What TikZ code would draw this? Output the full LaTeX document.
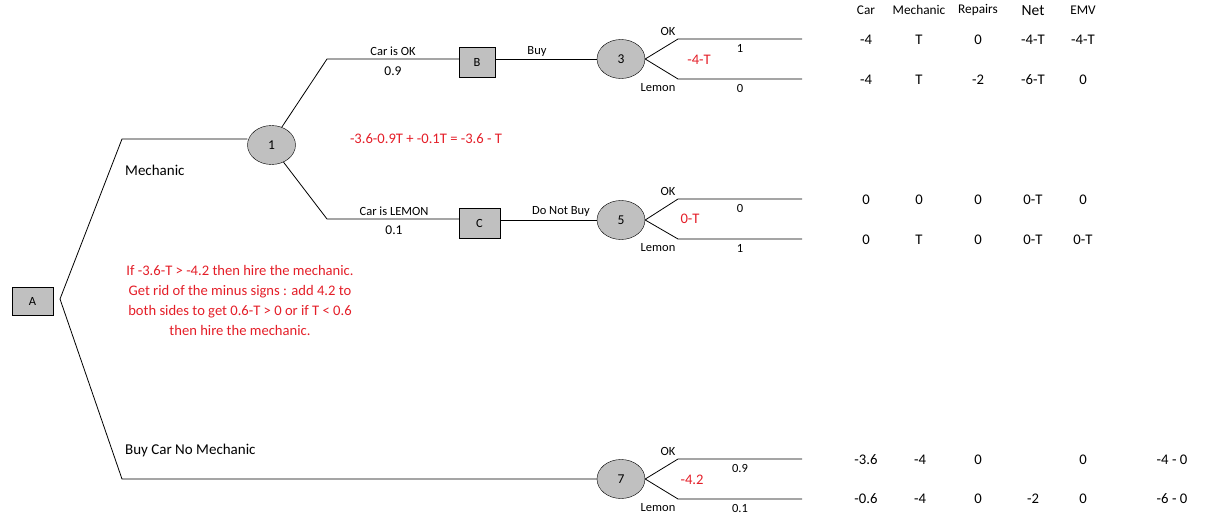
\documentclass[tikz,border=0pt]{standalone}
\usepackage{fontspec}
\setmainfont{Carlito}
\usetikzlibrary{shapes.geometric}
\definecolor{redtxt}{RGB}{228,30,40}
\definecolor{nodegray}{RGB}{192,192,192}
\tikzset{
  dec/.style={draw=black,fill=nodegray,rectangle,inner sep=0pt,font=\fontsize{12.5}{14}\selectfont},
  chance/.style={draw=black,fill=nodegray,ellipse,inner sep=0pt,minimum width=48pt,minimum height=39pt,font=\fontsize{13.5}{15}\selectfont},
  lbl/.style={inner sep=0pt,font=\fontsize{12.5}{14}\selectfont},
  prob/.style={inner sep=0pt,font=\fontsize{13.5}{15}\selectfont},
  big/.style={inner sep=0pt,font=\fontsize{15}{17}\selectfont},
  redlbl/.style={inner sep=0pt,text=redtxt,font=\fontsize{14.6}{17}\selectfont},
  hdr/.style={inner sep=0pt,font=\fontsize{13.3}{15}\selectfont},
  val/.style={inner sep=0pt,font=\fontsize{14.7}{16}\selectfont},
  edge/.style={draw=black,line width=0.8pt}
}
\begin{document}
\begin{tikzpicture}[x=1pt,y=-1pt]
\useasboundingbox (0,0) rectangle (1206,524);
% nodes
\node[dec,minimum width=41pt,minimum height=28pt] (A) at (32.5,301) {A};
\node[chance] (n1) at (271.5,145) {1};
\node[dec,minimum width=36pt,minimum height=30pt] (B) at (477,62) {B};
\node[dec,minimum width=41pt,minimum height=30pt] (C) at (479.5,223) {C};
\node[chance] (n3) at (621,59) {3};
\node[chance] (n5) at (621,220) {5};
\node[chance] (n7) at (621,479) {7};
% coordinates
\coordinate (fA) at (60,299);
\coordinate (kM) at (122,139);
\coordinate (kN) at (122,479);
\coordinate (k1a) at (327,59);
\coordinate (k1b) at (327,219);
\coordinate (e3a) at (678,39);  \coordinate (t3a) at (802,39);
\coordinate (e3b) at (678,79);  \coordinate (t3b) at (802,79);
\coordinate (e5a) at (678,199); \coordinate (t5a) at (802,199);
\coordinate (e5b) at (678,239); \coordinate (t5b) at (802,239);
\coordinate (e7a) at (678,459); \coordinate (t7a) at (802,459);
\coordinate (e7b) at (678,499); \coordinate (t7b) at (802,499);
% connectors
\draw[edge] (fA) -- (kM) -- (n1.west |- kM);
\draw[edge] (fA) -- (kN) -- (n7.west);
\draw[edge] (n1.60) -- (k1a) -- (B.west |- k1a);
\draw[edge] (n1.-55) -- (k1b) -- (C.west |- k1b);
\draw[edge] (B.east |- n3) -- (n3.west);
\draw[edge] (C.east |- n5) -- (n5.west);
\draw[edge] (n3.east) -- (e3a) -- (t3a);
\draw[edge] (n3.east) -- (e3b) -- (t3b);
\draw[edge] (n5.east) -- (e5a) -- (t5a);
\draw[edge] (n5.east) -- (e5b) -- (t5b);
\draw[edge] (n7.east) -- (e7a) -- (t7a);
\draw[edge] (n7.east) -- (e7b) -- (t7b);
% branch labels
\node[big,anchor=west] (lm) at (125,170) {Mechanic};
\node[big,anchor=west] (lbn) at (125,450) {Buy Car No Mechanic};
\node[lbl] (lok) at (393,51) {Car is OK};
\node[prob] (p09) at (393,71) {0.9};
\node[lbl] (llem) at (394,211) {Car is LEMON};
\node[prob] (p01) at (394,230) {0.1};
\node[lbl] (lbuy) at (537,51) {Buy};
\node[lbl] (ldnb) at (561,211) {Do Not Buy};
\node[lbl] (ok3) at (668,31) {OK};
\node[lbl] (le3) at (658,88) {Lemon};
\node[lbl] (v31) at (740,48) {1};
\node[lbl] (v30) at (740,88) {0};
\node[lbl] (ok5) at (668,191) {OK};
\node[lbl] (le5) at (658,248) {Lemon};
\node[lbl] (v50) at (740,208) {0};
\node[lbl] (v51) at (740,248) {1};
\node[lbl] (ok7) at (668,451) {OK};
\node[lbl] (le7) at (658,508) {Lemon};
\node[lbl] (v79) at (740,468) {0.9};
\node[lbl] (v71) at (740,508) {0.1};
% red annotations
\node[redlbl] (r3) at (699,60) {-4-T};
\node[redlbl] (r5) at (690,219) {0-T};
\node[redlbl] (r7) at (692,480) {-4.2};
\node[redlbl] (rf) at (426,139) {-3.6-0.9T + -0.1T = -3.6 - T};
\node[redlbl,align=center,font=\fontsize{14.6}{20}\selectfont] (rp) at (240,300) {If -3.6-T > -4.2 then hire the mechanic.\\Get rid of the minus signs : add 4.2 to\\both sides to get 0.6-T > 0 or if T < 0.6\\then hire the mechanic.};
% table headers
\node[hdr] (hCar) at (866,10) {Car};
\node[hdr] (hMech) at (919,10) {Mechanic};
\node[hdr] (hRep) at (978,10) {Repairs};
\node[val,font=\fontsize{15.5}{17}\selectfont] (hNet) at (1033,11) {Net};
\node[hdr] (hEMV) at (1083,10) {EMV};
% table rows
\node[val] at (866,40) {-4}; \node[val] at (919,40) {T}; \node[val] at (978,40) {0}; \node[val] at (1033,40) {-4-T}; \node[val] at (1083,40) {-4-T};
\node[val] at (866,80) {-4}; \node[val] at (919,80) {T}; \node[val] at (978,80) {-2}; \node[val] at (1033,80) {-6-T}; \node[val] at (1083,80) {0};
\node[val] at (866,200) {0}; \node[val] at (919,200) {0}; \node[val] at (978,200) {0}; \node[val] at (1033,200) {0-T}; \node[val] at (1083,200) {0};
\node[val] at (866,240) {0}; \node[val] at (919,240) {T}; \node[val] at (978,240) {0}; \node[val] at (1033,240) {0-T}; \node[val] at (1083,240) {0-T};
\node[val] at (866,460) {-3.6}; \node[val] at (920,460) {-4}; \node[val] at (978,460) {0}; \node[val] at (1083,460) {0}; \node[val] at (1172,460) {-4 - 0};
\node[val] at (866,499) {-0.6}; \node[val] at (920,499) {-4}; \node[val] at (978,499) {0}; \node[val] at (1033,499) {-2}; \node[val] at (1083,499) {0}; \node[val] at (1172,499) {-6 - 0};
\end{tikzpicture}
\end{document}
